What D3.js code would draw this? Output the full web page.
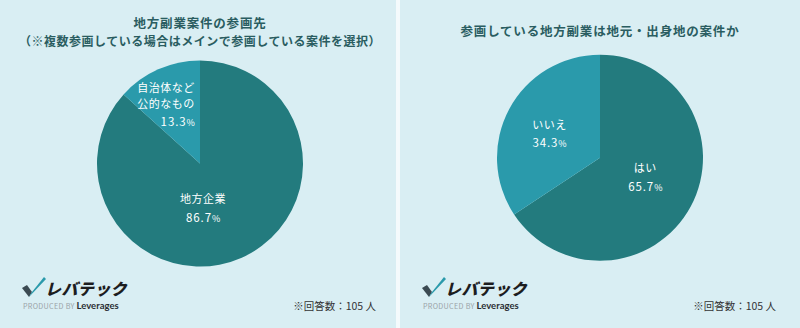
<!DOCTYPE html>
<html>
<head>
<meta charset="utf-8">
<script src="https://cdn.jsdelivr.net/npm/d3@7"></script>
<style>
  html, body { margin: 0; padding: 0; background: #ffffff; }
  svg { display: block; }
  text { font-family: "Noto Sans CJK JP", "Noto Sans", sans-serif; }
</style>
</head>
<body>
<svg id="chart" width="800" height="328"></svg>
<script>
// Survey results: two pies, 105 respondents
const chart1Title = ["地方副業案件の参画先", "（※複数参画している場合はメインで参画している案件を選択）"];
const chart1Categories = [["地方企業"], ["自治体など", "公的なもの"]];
const chart1Values = [86.7, 13.3];

const chart2Title = ["参画している地方副業は地元・出身地の案件か"];
const chart2Categories = [["はい"], ["いいえ"]];
const chart2Values = [65.7, 34.3];

const footnote = "※回答数：105 人";

const COLORS = { bg: "#d9eef3", dark: "#237b7e", light: "#2a9aab", title: "#2a5d61", text: "#ffffff" };

const svg = d3.select("#chart");

// panel layout
const panels = [
  { x: 0, w: 396, cy: 163.5, title: chart1Title, titleY: [28, 45.5], cats: chart1Categories, vals: chart1Values,
    // per-slice label placement: [dx, dy, anchor] relative to pie centre, in units of radius
    labels: [[0.03, 0.385, "middle"], [-0.05, -0.69, "end"]] },
  { x: 400, w: 400, cy: 157.7, title: chart2Title, titleY: [36], cats: chart2Categories, vals: chart2Values,
    labels: [[0.44, 0.14, "middle"], [-0.49, -0.28, "middle"]] }
];
const R = 103;

const pie = d3.pie().sort(null).value(d => d).startAngle(0).endAngle(2 * Math.PI);
const arc = d3.arc().innerRadius(0).outerRadius(R);
const color = d3.scaleOrdinal().domain([0, 1]).range([COLORS.dark, COLORS.light]);

panels.forEach(p => {
  const g = svg.append("g").attr("transform", `translate(${p.x},0)`);
  g.append("rect").attr("width", p.w).attr("height", 328).attr("fill", COLORS.bg);

  const cx = 200;

  // title
  p.title.forEach((t, i) => {
    g.append("text")
      .attr("x", cx).attr("y", p.titleY[i])
      .attr("text-anchor", "middle")
      .attr("font-size", i === 0 ? 12.5 : 12).attr("font-weight", 700)
      .attr("letter-spacing", i === 0 ? 0.8 : 0.5)
      .attr("fill", COLORS.title)
      .text(t);
  });

  // pie
  const pg = g.append("g").attr("transform", `translate(${cx},${p.cy})`);
  const arcs = pie(p.vals);
  pg.selectAll("path").data(arcs).join("path")
    .attr("d", arc)
    .attr("fill", (d, i) => color(i));

  // slice labels
  arcs.forEach((d, i) => {
    const [dx, dy, anchor] = p.labels[i];
    const lines = p.cats[i];
    const x = dx * R, y0 = dy * R;
    const t = pg.append("text")
      .attr("text-anchor", anchor)
      .attr("fill", COLORS.text)
      .attr("font-size", 11);
    lines.forEach((ln, j) => {
      t.append("tspan").attr("x", x).attr("y", y0 + j * 15.5)
        .attr("letter-spacing", 0.5).text(ln);
    });
    const pv = t.append("tspan").attr("x", x).attr("y", y0 + (lines.length - 1) * 15.5 + 18.5)
      .attr("letter-spacing", 0.9).attr("font-size", 11.5);
    pv.append("tspan").text(d3.format(".1f")(d.data));
    pv.append("tspan").attr("font-size", 9).attr("letter-spacing", 0).text("%");
  });

  // brand mark
  const lg = g.append("g").attr("transform", "translate(22,277)");
  lg.append("path").attr("d", "M0,11 L5,8 L10,15 L7,20 Z").attr("fill", "#3b4a52");
  lg.append("path").attr("d", "M7,20 L10,15 L22,0 L24,2 Z").attr("fill", "#2a9aab");
  lg.append("text").attr("x", 23).attr("y", 18)
    .attr("font-size", 16).attr("font-weight", 900).attr("font-style", "italic")
    .attr("letter-spacing", 0.4).attr("fill", "#1d1d1f")
    .text("レバテック");
  const pb = lg.append("text").attr("x", 1).attr("y", 31.5);
  pb.append("tspan").attr("font-size", 7.2).attr("fill", "#9aa4a8").attr("letter-spacing", 0.3)
    .text("PRODUCED BY ");
  pb.append("tspan").attr("font-size", 9.5).attr("font-weight", 700).attr("fill", "#2b2f33")
    .attr("font-family", "Lato, sans-serif").text("Leverages");

  // footnote
  g.append("text").attr("x", 376).attr("y", 310)
    .attr("text-anchor", "end").attr("font-size", 10.5)
    .attr("fill", "#333").text(footnote);
});

// thin light gutter between the two panels
svg.append("rect").attr("x", 396).attr("y", 0).attr("width", 4).attr("height", 328).attr("fill", "#f4fafc");
</script>
</body>
</html>
